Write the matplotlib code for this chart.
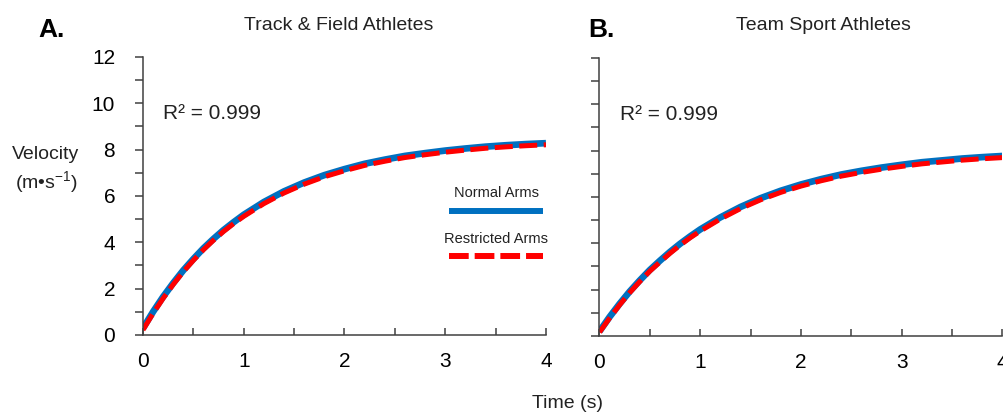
import numpy as np
import matplotlib.pyplot as plt
from matplotlib.ticker import MultipleLocator

time_s = [0.0, 0.1, 0.2, 0.3, 0.4, 0.5, 0.6, 0.7, 0.8, 0.9, 1.0,
          1.2, 1.4, 1.6, 1.8, 2.0, 2.2, 2.4, 2.6, 2.8, 3.0,
          3.2, 3.4, 3.6, 3.8, 4.0]

tf_normal = [0.29, 1.00, 1.65, 2.24, 2.79, 3.28, 3.74, 4.15, 4.53, 4.87, 5.19,
             5.74, 6.20, 6.58, 6.90, 7.16, 7.39, 7.57, 7.73, 7.85, 7.96,
             8.05, 8.13, 8.19, 8.24, 8.28]
tf_restricted = [0.22, 0.93, 1.58, 2.18, 2.73, 3.22, 3.68, 4.09, 4.47, 4.81, 5.12,
                 5.67, 6.13, 6.51, 6.83, 7.09, 7.32, 7.50, 7.66, 7.78, 7.89,
                 7.98, 8.06, 8.12, 8.17, 8.21]

team_normal = [0.20, 0.82, 1.39, 1.92, 2.40, 2.85, 3.25, 3.63, 3.98, 4.30, 4.60,
               5.12, 5.57, 5.95, 6.27, 6.54, 6.77, 6.97, 7.13, 7.27, 7.39,
               7.50, 7.58, 7.66, 7.72, 7.77]
team_restricted = [0.16, 0.77, 1.34, 1.87, 2.35, 2.80, 3.19, 3.57, 3.92, 4.24, 4.53,
                   5.05, 5.50, 5.88, 6.20, 6.47, 6.70, 6.90, 7.06, 7.20, 7.32,
                   7.43, 7.51, 7.59, 7.65, 7.70]

panel_titles = ["Track & Field Athletes", "Team Sport Athletes"]
panel_letters = ["A.", "B."]
r2_text = "R\u00b2 = 0.999"
series_labels = ["Normal Arms", "Restricted Arms"]

plt.rcParams["font.family"] = ["Liberation Sans", "DejaVu Sans"]
plt.rcParams["mathtext.fontset"] = "custom"
plt.rcParams["mathtext.rm"] = "Liberation Sans"

blue = "#0070C0"
red = "#FF0000"
axis_col = "#404040"

fig = plt.figure(figsize=(10.04, 4.12), dpi=100)
ax_a = fig.add_axes([0.1424, 0.1869, 0.4014, 0.6748])
ax_b = fig.add_axes([0.5971, 0.1845, 0.4014, 0.6748])

panels = [(ax_a, tf_normal, tf_restricted), (ax_b, team_normal, team_restricted)]

for i, (ax, normal, restricted) in enumerate(panels):
    ax.plot(time_s, normal, color=blue, lw=4.8, solid_capstyle="butt",
            solid_joinstyle="round")
    ax.plot(time_s, restricted, color=red, lw=3.6, dashes=(3.6, 1.3))

    ax.set_xlim(0, 4)
    ax.set_ylim(0, 12)
    for s in ["top", "right"]:
        ax.spines[s].set_visible(False)
    for s in ["left", "bottom"]:
        ax.spines[s].set_color(axis_col)
        ax.spines[s].set_linewidth(1.1)

    ax.xaxis.set_major_locator(MultipleLocator(1))
    ax.xaxis.set_minor_locator(MultipleLocator(0.5))
    ax.yaxis.set_major_locator(MultipleLocator(2))
    ax.yaxis.set_minor_locator(MultipleLocator(1))
    ax.tick_params(axis="x", which="both", direction="in", length=5,
                   width=1.1, color=axis_col, labelsize=15, pad=12)
    ax.tick_params(axis="y", which="both", direction="out", length=6,
                   width=1.1, color=axis_col, labelsize=15, pad=14)
    if i == 1:
        ax.tick_params(axis="y", labelleft=False)

    ax.text(0.05, 0.795, r2_text, transform=ax.transAxes, fontsize=15,
            ha="left", va="center", color="#222222")

# Legende (manuell, Text oberhalb der Linie)
ax_a.text(0.878, 0.511, series_labels[0], transform=ax_a.transAxes,
          fontsize=10.5, ha="center", va="center", color="#222222")
ax_a.plot([0.759, 0.993], [0.446, 0.446], transform=ax_a.transAxes,
          color=blue, lw=4.3, solid_capstyle="butt", clip_on=False)
ax_a.text(0.877, 0.345, series_labels[1], transform=ax_a.transAxes,
          fontsize=10.5, ha="center", va="center", color="#222222")
ax_a.plot([0.759, 0.993], [0.284, 0.284], transform=ax_a.transAxes,
          color=red, lw=4.3, dashes=(3.3, 1.0), clip_on=False)

# Titel, Buchstaben und Achsenbeschriftungen
fig.text(339 / 1004, 1 - 25 / 412, panel_titles[0], fontsize=14,
         ha="center", va="center", color="#222222")
fig.text(823 / 1004, 1 - 25 / 412, panel_titles[1], fontsize=14,
         ha="center", va="center", color="#222222")
fig.text(52 / 1004, 1 - 30 / 412, panel_letters[0], fontsize=19,
         fontweight="bold", ha="center", va="center")
fig.text(601 / 1004, 1 - 30 / 412, panel_letters[1], fontsize=19,
         fontweight="bold", ha="center", va="center")
fig.text(46 / 1004, 1 - 171 / 412, "Velocity\n(m\u2022s$^{\\mathrm{-1}}$)",
         fontsize=14, ha="center", va="center", linespacing=1.3,
         color="#222222")
fig.text(568 / 1004, 1 - 404 / 412, "Time (s)", fontsize=14,
         ha="center", va="center", color="#222222")

plt.savefig("out.png", dpi=100)
